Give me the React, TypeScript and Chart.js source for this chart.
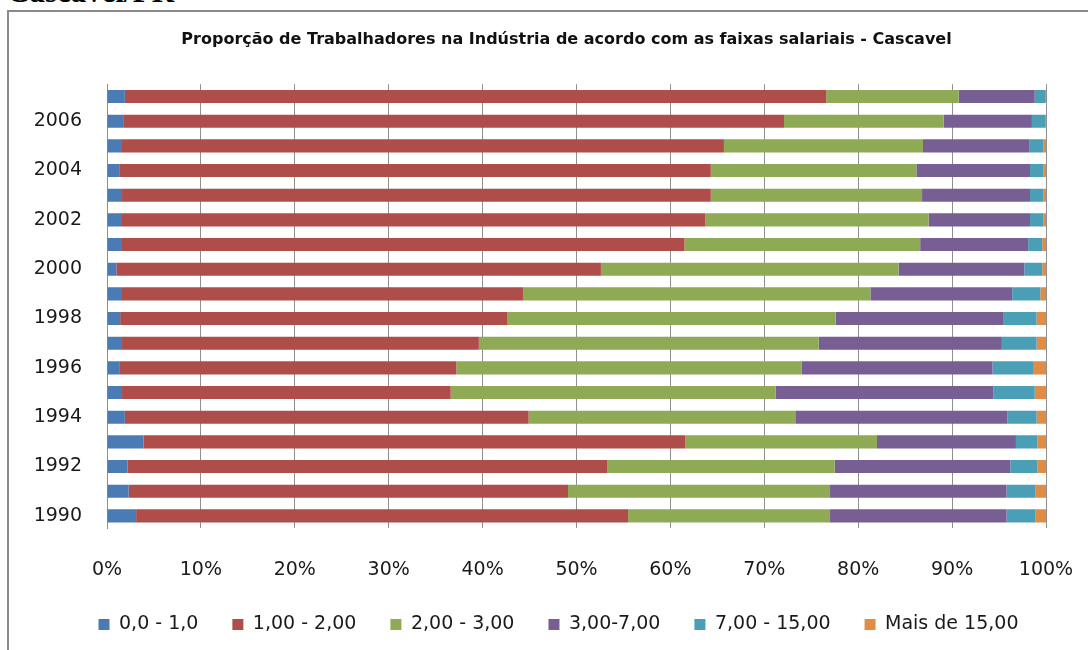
import React, { useEffect, useRef } from "react";
import { Chart, registerables } from "chart.js";

Chart.register(...registerables);

const years = ["1990", "1991", "1992", "1993", "1994", "1995", "1996", "1997", "1998", "1999", "2000", "2001", "2002", "2003", "2004", "2005", "2006", "2007"];
const shownYearLabels = ["1990", "1992", "1994", "1996", "1998", "2000", "2002", "2004", "2006"];

const faixa0a1 = [3.1, 2.3, 2.2, 3.9, 1.9, 1.6, 1.3, 1.6, 1.4, 1.5, 1.0, 1.5, 1.5, 1.6, 1.3, 1.5, 1.8, 1.9];
const faixa1a2 = [52.4, 46.8, 51.1, 57.7, 43.0, 35.0, 35.9, 38.0, 41.2, 42.8, 51.6, 60.0, 62.2, 62.7, 63.0, 64.2, 70.3, 74.7];
const faixa2a3 = [21.5, 27.9, 24.2, 20.4, 28.4, 34.6, 36.8, 36.2, 35.0, 37.0, 31.7, 25.1, 23.8, 22.5, 21.9, 21.2, 17.0, 14.1];
const faixa3a7 = [18.8, 18.8, 18.7, 14.8, 22.6, 23.2, 20.3, 19.5, 17.9, 15.1, 13.4, 11.5, 10.8, 11.5, 12.1, 11.3, 9.4, 8.1];
const faixa7a15 = [3.1, 3.1, 2.9, 2.3, 3.1, 4.4, 4.4, 3.7, 3.5, 3.0, 1.9, 1.5, 1.4, 1.4, 1.4, 1.5, 1.4, 1.1];
const faixaMais15 = [1.1, 1.1, 0.9, 0.9, 1.0, 1.2, 1.3, 1.0, 1.0, 0.6, 0.4, 0.4, 0.3, 0.3, 0.3, 0.3, 0.1, 0.1];

const seriesNames = ["0,0 - 1,0", "1,00 - 2,00", "2,00 - 3,00", "3,00-7,00", "7,00 - 15,00", "Mais de 15,00"];
const seriesColors = ["#4A7BB5", "#AE4D4A", "#8EAA54", "#775F94", "#4A9FB7", "#E08C45"];
const xTicks = [0, 10, 20, 30, 40, 50, 60, 70, 80, 90, 100];

const titleText = "Proporção de Trabalhadores na Indústria de acordo com as faixas salariais - Cascavel";
const FONT = "'DejaVu Sans', sans-serif";

const shiftBoxes = {
  id: "shiftBoxes",
  afterLayout(chart: any) {
    const t = chart.titleBlock;
    if (t) {
      t.left += 27;
      t.right += 27;
    }
    const l = chart.legend;
    if (l) {
      l.left += 19;
      l.right += 19;
      l.top -= 2;
      l.bottom -= 2;
    }
  },
};

export default function App() {
  const canvasRef = useRef<HTMLCanvasElement | null>(null);

  useEffect(() => {
    const canvas = canvasRef.current;
    if (!canvas) return;
    const values = [faixa0a1, faixa1a2, faixa2a3, faixa3a7, faixa7a15, faixaMais15];
    const chart = new Chart(canvas, {
      type: "bar",
      plugins: [shiftBoxes],
      data: {
        labels: years,
        datasets: values.map((d, i) => ({
          label: seriesNames[i],
          data: d,
          backgroundColor: seriesColors[i],
          borderWidth: 0,
          barPercentage: 0.53,
          categoryPercentage: 1,
        })),
      },
      options: {
        indexAxis: "y",
        animation: false,
        responsive: false,
        maintainAspectRatio: false,
        layout: { padding: { left: 33, right: 42, top: 22, bottom: 9 } },
        plugins: {
          title: {
            display: true,
            text: titleText,
            color: "#111",
            font: { family: FONT, size: 16, weight: "bold" },
            padding: { top: 8, bottom: 35 },
          },
          legend: {
            position: "bottom",
            labels: {
              boxWidth: 11,
              boxHeight: 11,
              padding: 34,
              color: "#1a1a1a",
              font: { family: FONT, size: 19 },
            },
          },
          tooltip: { enabled: false },
        },
        scales: {
          x: {
            stacked: true,
            min: 0,
            max: 100,
            afterBuildTicks: (scale: any) => {
              scale.ticks = xTicks.map((v) => ({ value: v }));
            },
            ticks: {
              color: "#1a1a1a",
              font: { family: FONT, size: 19 },
              padding: 2,
              maxRotation: 0,
              callback: (v: any) => v + "%",
            },
            grid: {
              color: "#8f8f8f",
              lineWidth: 1,
              drawTicks: true,
              tickLength: 28,
              tickColor: "rgba(0,0,0,0)",
            },
            border: { display: false },
          },
          y: {
            stacked: true,
            reverse: true,
            afterFit: (scale: any) => {
              scale.width = 74;
            },
            ticks: {
              autoSkip: false,
              color: "#1a1a1a",
              font: { family: FONT, size: 19 },
              padding: 25,
              callback: function (this: any, v: any, idx: number) {
                const lab = years[idx];
                return shownYearLabels.includes(lab) ? lab : "";
              },
            },
            grid: { display: false, drawTicks: false },
            border: { display: true, color: "#8f8f8f", width: 1 },
          },
        },
      },
    });
    return () => chart.destroy();
  }, []);

  return (
    <div style={{ position: "fixed", left: 0, top: 0, width: 1088, height: 650, background: "#fff", overflow: "hidden" }}>
      <div
        style={{
          position: "absolute",
          left: 7,
          top: -24,
          fontFamily: "'Liberation Serif', 'Times New Roman', serif",
          fontWeight: "bold",
          fontSize: 31,
          lineHeight: "32px",
          color: "#000",
          whiteSpace: "nowrap",
        }}
      >
        Cascavel/PR
      </div>
      <div
        style={{
          position: "absolute",
          left: 7,
          top: 10,
          width: 1100,
          height: 700,
          borderLeft: "2px solid #8a8a8a",
          borderTop: "2px solid #8a8a8a",
          boxSizing: "border-box",
        }}
      />
      <canvas ref={canvasRef} width={1088} height={655} style={{ position: "absolute", left: 0, top: 0 }} />
    </div>
  );
}
